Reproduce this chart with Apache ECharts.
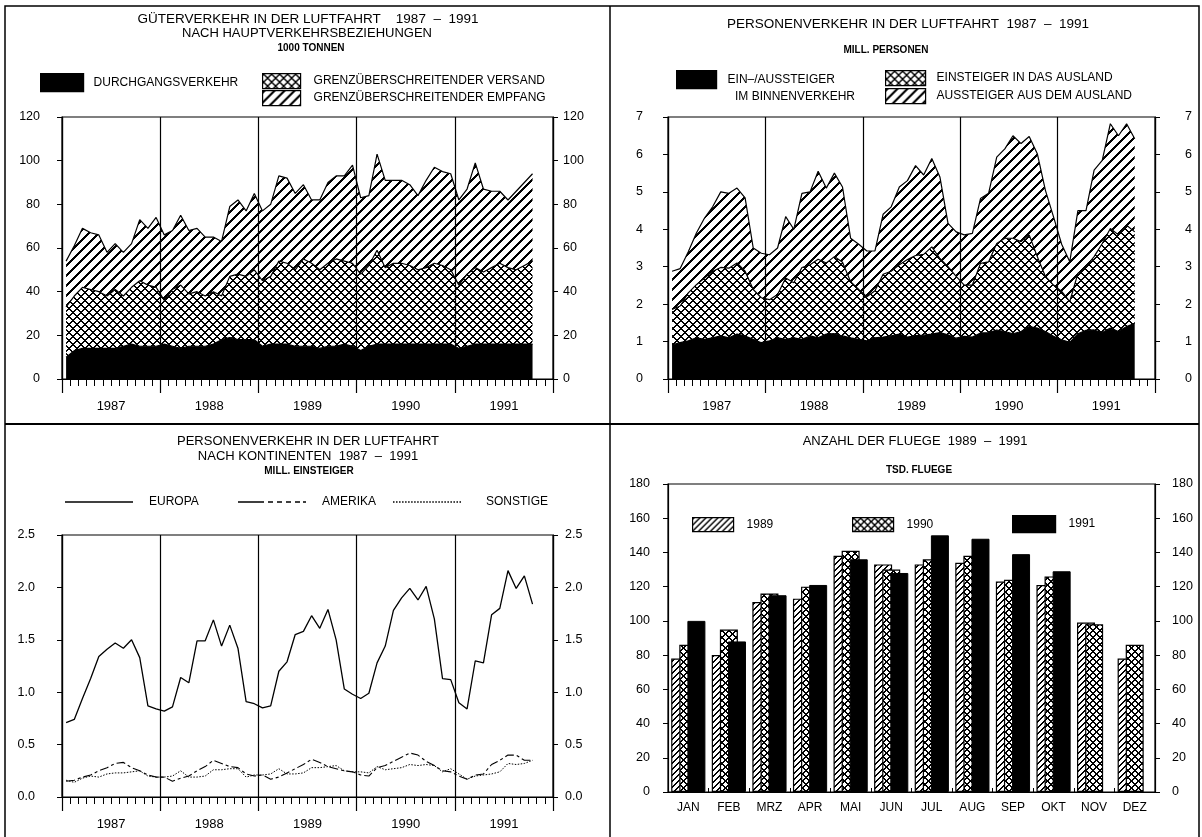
<!DOCTYPE html>
<html><head><meta charset="utf-8">
<script src="https://cdn.jsdelivr.net/npm/echarts@6/dist/echarts.min.js"></script>
<style>html,body{margin:0;padding:0;background:#fff}#c{width:1202px;height:837px}</style>
</head><body><div id="c"></div>
<script>
// ---------- DATA ----------
const years = ['1987', '1988', '1989', '1990', '1991'];
const monthNames = ['JAN', 'FEB', 'MRZ', 'APR', 'MAI', 'JUN', 'JUL', 'AUG', 'SEP', 'OKT', 'NOV', 'DEZ'];

// Güterverkehr (1000 Tonnen), Jan 1987 - Okt 1991
const durchgang = [10,13,14,14,14,14,14,15,16,15,15,15, 16,15,14,15,15,15,16,18,19,18,18,18, 15,16,16,16,15,15,15,14,15,15,16,15, 13,15,16,16,16,16,16,16,16,16,16,16, 14,15,16,16,16,16,16,16,16,16];
const versand   = [23,25,28,27,26,24,27,23,26,30,28,27, 20,26,29,24,25,23,24,20,28,30,29,32, 30,31,38,37,35,40,38,36,38,40,38,38, 35,37,43,35,37,37,36,34,35,37,36,34, 29,33,35,33,35,37,35,34,36,38];
const empfang   = [21,23,27,26,26,20,21,20,20,28,26,32, 30,27,32,29,29,27,25,25,32,34,30,35, 32,33,39,39,35,34,29,32,37,38,39,45, 35,32,44,40,38,38,37,34,40,44,43,44, 39,39,48,38,35,33,31,36,38,40];

// Personenverkehr (Mill. Personen)
const binnen     = [0.91,0.97,1.02,1.10,1.06,1.10,1.15,1.10,1.20,1.15,1.06,0.97, 1.02,1.10,1.06,1.10,1.06,1.15,1.10,1.20,1.21,1.15,1.10,1.06, 1.02,1.10,1.12,1.15,1.20,1.12,1.16,1.17,1.20,1.24,1.18,1.09, 1.14,1.12,1.23,1.24,1.31,1.27,1.21,1.27,1.40,1.36,1.27,1.14, 1.05,0.98,1.21,1.30,1.31,1.24,1.36,1.27,1.40,1.49];
const einsteiger = [0.95,0.98,1.28,1.42,1.64,1.78,1.83,1.86,1.90,1.73,1.33,1.20, 1.10,1.16,1.64,1.47,1.92,1.90,2.10,1.90,2.06,1.97,1.50,1.33, 1.18,1.26,1.68,1.73,1.85,2.07,2.14,2.16,2.33,1.98,1.82,1.65, 1.37,1.39,1.86,1.89,2.31,2.49,2.55,2.40,2.45,1.91,1.47,1.37, 1.29,1.09,1.61,1.70,1.96,2.38,2.66,2.58,2.71,2.44];
const aussteiger = [1.02,1.00,1.10,1.38,1.60,1.72,2.02,2.00,2.00,1.96,1.11,1.19, 1.20,1.24,1.64,1.43,1.98,1.95,2.35,2.00,2.23,2.01,1.16,1.21, 1.22,1.06,1.60,1.72,2.08,2.11,2.40,2.12,2.36,2.18,1.16,1.19, 1.34,1.38,1.73,1.83,2.31,2.39,2.74,2.62,2.63,2.75,2.30,1.82, 1.26,1.06,1.68,1.50,2.31,2.22,2.80,2.65,2.71,2.49];

// Einsteiger nach Kontinenten (Mill.)
const europa  = [0.71,0.74,0.94,1.13,1.34,1.41,1.47,1.42,1.50,1.33,0.87,0.84, 0.82,0.86,1.14,1.09,1.49,1.49,1.69,1.44,1.64,1.42,0.91,0.89, 0.85,0.87,1.20,1.29,1.55,1.58,1.73,1.61,1.79,1.50,1.03,0.98, 0.94,0.99,1.28,1.44,1.78,1.90,1.99,1.88,2.01,1.70,1.13,1.12, 0.90,0.84,1.30,1.28,1.74,1.80,2.16,1.99,2.11,1.84];
const amerika = [0.15,0.16,0.19,0.21,0.25,0.28,0.32,0.33,0.28,0.25,0.21,0.19, 0.19,0.15,0.18,0.20,0.25,0.29,0.35,0.32,0.29,0.28,0.22,0.20, 0.21,0.17,0.19,0.23,0.27,0.31,0.36,0.33,0.29,0.27,0.25,0.24, 0.21,0.20,0.28,0.30,0.34,0.38,0.42,0.40,0.34,0.30,0.25,0.24, 0.20,0.17,0.21,0.22,0.31,0.35,0.40,0.40,0.35,0.35];
const sonstige = [0.16,0.14,0.18,0.20,0.19,0.22,0.23,0.23,0.24,0.25,0.20,0.19, 0.19,0.20,0.25,0.19,0.19,0.20,0.26,0.26,0.27,0.27,0.19,0.21, 0.21,0.22,0.27,0.22,0.22,0.23,0.28,0.28,0.29,0.30,0.25,0.24, 0.24,0.23,0.29,0.26,0.27,0.28,0.31,0.30,0.31,0.30,0.24,0.27, 0.22,0.17,0.20,0.21,0.22,0.24,0.32,0.31,0.32,0.35];

// Anzahl der Flüge (Tsd.)
const fluege1989 = [78, 80, 111, 113, 138, 133, 133, 134, 123, 121, 99, 78];
const fluege1990 = [86, 95, 116, 120, 141, 130, 136, 138, 124, 126, 98, 86];
const fluege1991 = [100, 88, 115, 121, 136, 128, 150, 148, 139, 129, null, null];

// ---------- HELPERS ----------
const FONT = '"Liberation Sans", Arial, sans-serif';
const monthKeys = [];
years.forEach(y => monthNames.forEach(m => monthKeys.push(m + ' ' + y)));

function pixPattern(p, isInk) {
  const c = document.createElement('canvas');
  c.width = p; c.height = p;
  const g = c.getContext('2d');
  const img = g.createImageData(p, p);
  for (let y = 0; y < p; y++) {
    for (let x = 0; x < p; x++) {
      const v = isInk(x, y) ? 0 : 255;
      const i = (y * p + x) * 4;
      img.data[i] = v; img.data[i + 1] = v; img.data[i + 2] = v; img.data[i + 3] = 255;
    }
  }
  g.putImageData(img, 0, 0);
  return { image: c, repeat: 'repeat' };
}
const hatchBig = pixPattern(10, (x, y) => (x + y) % 10 < 3);
const crossBig = pixPattern(8, (x, y) => (x + y) % 8 < 2 || (x - y + 8) % 8 < 2);
const hatchBar = pixPattern(6, (x, y) => (x + y) % 6 < 2);
const crossBar = pixPattern(7, (x, y) => (x + y) % 7 < 2 || (x - y + 7) % 7 < 2);

const txt = (size, weight) => ({ color: '#000', fontSize: size, fontWeight: weight || 'normal', fontFamily: FONT });

function monthAxis(gi) {
  return { type: 'category', gridIndex: gi, data: monthKeys, position: 'bottom', offset: 0, boundaryGap: true,
    axisLine: { show: true, lineStyle: { color: '#000', width: 1.2 } },
    axisTick: { show: true, interval: 0, length: 7, lineStyle: { color: '#000', width: 1 } },
    axisLabel: { show: false }, splitLine: { show: false } };
}
function yearAxis(gi) {
  return { type: 'category', gridIndex: gi, data: years, position: 'bottom', offset: 0, z: 5,
    axisLine: { show: false },
    axisTick: { show: true, interval: 0, length: 14, lineStyle: { color: '#000', width: 1.2 } },
    axisLabel: Object.assign({ show: true, margin: 21 }, txt(13)),
    splitLine: { show: true, interval: 0, lineStyle: { color: '#000', width: 1.2 } } };
}
function valAxis(gi, pos, max, interval, margin, fmt) {
  return { type: 'value', gridIndex: gi, position: pos, min: 0, max: max, interval: interval,
    axisLine: { show: true, lineStyle: { color: '#000', width: 1.2 } },
    axisTick: { show: true, length: 5, lineStyle: { color: '#000' } },
    axisLabel: Object.assign({ margin: margin, formatter: fmt }, txt(12.5)),
    splitLine: { show: false } };
}
function areaSeries(name, data, fill, xi, yi, stack) {
  return { name: name, type: 'line', xAxisIndex: xi, yAxisIndex: yi, stack: stack, data: data,
    symbol: 'none', itemStyle: { color: fill }, lineStyle: { color: '#000', width: 1.2 },
    areaStyle: { color: fill, opacity: 1 }, emphasis: { disabled: true }, z: 2 };
}
function boxLegend(name, fill, left, top, w, h, pad) {
  return { data: [{ name: name, icon: 'rect' }], left: left, top: top, itemWidth: w, itemHeight: h,
    padding: 0, itemGap: 0, selectedMode: false,
    itemStyle: { color: fill, borderColor: '#000', borderWidth: 1.2 },
    textStyle: Object.assign({ padding: [0, 0, 0, pad] }, txt(12)) };
}
function lineLegend(name, icon, left, top, pad) {
  return { data: [{ name: name, icon: icon }], left: left, top: top, itemWidth: 68, itemHeight: 1.4,
    padding: 0, itemGap: 0, selectedMode: false, symbolKeepAspect: false,
    itemStyle: { color: '#000', borderWidth: 0 },
    textStyle: Object.assign({ padding: [0, 0, 0, pad] }, txt(12)) };
}
let dotted = 'path://';
for (let x = 0; x < 68; x += 3) dotted += 'M' + x + ',0h1.5v1.4h-1.5z';
const dashdot = 'path://M0,0h26v1.4h-26zM30,0h5v1.4h-5zM39,0h5v1.4h-5zM48,0h5v1.4h-5zM57,0h5v1.4h-5zM65,0h3v1.4h-3z';
const solid = 'path://M0,0h68v1.4h-68z';

const fmt1 = v => v.toFixed(1);
const fmt0 = v => String(v);

const chart = echarts.init(document.getElementById('c'), null, { renderer: 'canvas' });
chart.setOption({
  animation: false,
  backgroundColor: '#fff',
  title: [
    { text: 'GÜTERVERKEHR IN DER LUFTFAHRT    1987  –  1991', left: 303, top: 7, textAlign: 'center', textStyle: txt(13.5) },
    { text: 'NACH HAUPTVERKEHRSBEZIEHUNGEN', left: 302, top: 22, textAlign: 'center', textStyle: txt(13) },
    { text: '1000 TONNEN', left: 306, top: 38, textAlign: 'center', textStyle: txt(10, 'bold') },
    { text: 'PERSONENVERKEHR IN DER LUFTFAHRT  1987  –  1991', left: 903, top: 12, textAlign: 'center', textStyle: txt(13.5) },
    { text: 'MILL. PERSONEN', left: 881, top: 40, textAlign: 'center', textStyle: txt(10, 'bold') },
    { text: 'PERSONENVERKEHR IN DER LUFTFAHRT', left: 303, top: 430, textAlign: 'center', textStyle: txt(13) },
    { text: 'NACH KONTINENTEN  1987  –  1991', left: 303, top: 445, textAlign: 'center', textStyle: txt(13) },
    { text: 'MILL. EINSTEIGER', left: 304, top: 461, textAlign: 'center', textStyle: txt(10, 'bold') },
    { text: 'ANZAHL DER FLUEGE  1989  –  1991', left: 910, top: 430, textAlign: 'center', textStyle: txt(13) },
    { text: 'TSD. FLUEGE', left: 914, top: 460, textAlign: 'center', textStyle: txt(10, 'bold') }
  ],
  legend: [
    boxLegend('DURCHGANGSVERKEHR', '#000', 40, 73, 43, 18, 5),
    boxLegend('GRENZÜBERSCHREITENDER VERSAND', crossBig, 262, 73, 38, 15, 8),
    boxLegend('GRENZÜBERSCHREITENDER EMPFANG', hatchBig, 262, 90, 38, 15, 8),
    Object.assign(boxLegend('EIN–/AUSSTEIGER IM BINNENVERKEHR', '#000', 676, 70, 40, 18, 6), { formatter: () => 'EIN–/AUSSTEIGER' }),
    boxLegend('EINSTEIGER IN DAS AUSLAND', crossBig, 885, 70, 40, 15, 6),
    boxLegend('AUSSTEIGER AUS DEM AUSLAND', hatchBig, 885, 88, 40, 15, 6),
    lineLegend('EUROPA', solid, 65, 496, 11),
    lineLegend('AMERIKA', dashdot, 238, 496, 11),
    lineLegend('SONSTIGE', dotted, 393, 496, 20),
    boxLegend('1989', hatchBar, 692, 517, 41, 14, 8),
    boxLegend('1990', crossBar, 852, 517, 41, 14, 8),
    boxLegend('1991', '#000', 1012, 515, 43, 17, 8)
  ],
  grid: [
    { left: 62, top: 117, width: 491, height: 262, show: true, borderColor: '#000', borderWidth: 1.2 },
    { left: 668, top: 117, width: 487, height: 262, show: true, borderColor: '#000', borderWidth: 1.2 },
    { left: 62, top: 535, width: 491, height: 262, show: true, borderColor: '#000', borderWidth: 1.2 },
    { left: 668, top: 484, width: 487, height: 308, show: true, borderColor: '#000', borderWidth: 1.2 }
  ],
  xAxis: [
    monthAxis(0), yearAxis(0),
    monthAxis(1), yearAxis(1),
    monthAxis(2), yearAxis(2),
    { type: 'category', gridIndex: 3, data: monthNames, position: 'bottom',
      axisLine: { show: true, lineStyle: { color: '#000', width: 1.2 } },
      axisTick: { show: true, inside: true, length: 4, lineStyle: { color: '#000' } },
      axisLabel: Object.assign({ margin: 10 }, txt(12)), splitLine: { show: false } }
  ],
  yAxis: [
    valAxis(0, 'left', 120, 20, 22, fmt0), valAxis(0, 'right', 120, 20, 10, fmt0),
    valAxis(1, 'left', 7, 1, 25, fmt0), valAxis(1, 'right', 7, 1, 30, fmt0),
    valAxis(2, 'left', 2.5, 0.5, 27, fmt1), valAxis(2, 'right', 2.5, 0.5, 12, fmt1),
    valAxis(3, 'left', 180, 20, 18, fmt0), valAxis(3, 'right', 180, 20, 17, fmt0)
  ],
  graphic: [
    { type: 'rect', shape: { x: 5, y: 6, width: 1194, height: 840 }, style: { fill: 'none', stroke: '#000', lineWidth: 1.5 }, silent: true },
    { type: 'line', shape: { x1: 610, y1: 6, x2: 610, y2: 837 }, style: { stroke: '#000', lineWidth: 1.5 }, silent: true },
    { type: 'line', shape: { x1: 5, y1: 424, x2: 1199, y2: 424 }, style: { stroke: '#000', lineWidth: 1.8 }, silent: true },
    { type: 'text', left: 735, top: 91, style: { text: 'IM BINNENVERKEHR', fill: '#000', fontSize: 12, fontFamily: FONT }, silent: true }
  ],
  series: [
    areaSeries('DURCHGANGSVERKEHR', durchgang, '#000', 0, 0, 'gv'),
    areaSeries('GRENZÜBERSCHREITENDER VERSAND', versand, crossBig, 0, 0, 'gv'),
    areaSeries('GRENZÜBERSCHREITENDER EMPFANG', empfang, hatchBig, 0, 0, 'gv'),
    areaSeries('EIN–/AUSSTEIGER IM BINNENVERKEHR', binnen, '#000', 2, 2, 'pv'),
    areaSeries('EINSTEIGER IN DAS AUSLAND', einsteiger, crossBig, 2, 2, 'pv'),
    areaSeries('AUSSTEIGER AUS DEM AUSLAND', aussteiger, hatchBig, 2, 2, 'pv'),
    { name: 'EUROPA', type: 'line', xAxisIndex: 4, yAxisIndex: 4, data: europa, symbol: 'none',
      itemStyle: { color: '#000' }, lineStyle: { color: '#000', width: 1.3 }, emphasis: { disabled: true }, z: 3 },
    { name: 'AMERIKA', type: 'line', xAxisIndex: 4, yAxisIndex: 4, data: amerika, symbol: 'none',
      itemStyle: { color: '#000' }, lineStyle: { color: '#000', width: 1.1, type: [9, 3, 3, 3] }, emphasis: { disabled: true }, z: 3 },
    { name: 'SONSTIGE', type: 'line', xAxisIndex: 4, yAxisIndex: 4, data: sonstige, symbol: 'none',
      itemStyle: { color: '#000' }, lineStyle: { color: '#000', width: 1, type: [1.5, 1.5] }, emphasis: { disabled: true }, z: 3 },
    { name: '1989', type: 'bar', xAxisIndex: 6, yAxisIndex: 6, data: fluege1989, barWidth: 18, barGap: '-55%',
      itemStyle: { color: hatchBar, borderColor: '#000', borderWidth: 1.2 }, emphasis: { disabled: true } },
    { name: '1990', type: 'bar', xAxisIndex: 6, yAxisIndex: 6, data: fluege1990, barWidth: 18, barGap: '-55%',
      itemStyle: { color: crossBar, borderColor: '#000', borderWidth: 1.2 }, emphasis: { disabled: true } },
    { name: '1991', type: 'bar', xAxisIndex: 6, yAxisIndex: 6, data: fluege1991, barWidth: 18, barGap: '-55%',
      itemStyle: { color: '#000', borderColor: '#000', borderWidth: 1 }, emphasis: { disabled: true } }
  ]
});
</script>
</body></html>
